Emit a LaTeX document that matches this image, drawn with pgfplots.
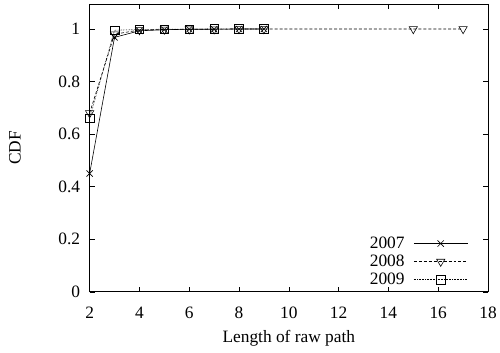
\documentclass[border=0pt]{standalone}
\usepackage{pgfplots}
\pgfplotsset{compat=1.18}
\usepackage{fontspec}
\setmainfont{Liberation Serif}
\begin{document}
\begin{tikzpicture}[x=1bp,y=1bp]
\begin{axis}[
  at={(90bp,61bp)}, anchor=south west,
  scale only axis, width=400bp, height=289bp,
  xmin=2, xmax=18, ymin=0, ymax=1.095,
  xtick={2,4,...,18}, ytick={0,0.2,...,1},
  yticklabels={0,0.2,0.4,0.6,0.8,1},
  tick align=inside, tick pos=both,
  major tick length=5bp,
  tick style={black, line width=0.6pt},
  axis line style={line width=0.9pt},
  /pgf/number format/assume math mode=true,
  tick label style={font=\fontsize{17.5}{18}\selectfont},
  xticklabel style={yshift=-12bp},
  yticklabel style={xshift=-6bp},
  label style={font=\fontsize{17.5}{18}\selectfont},
  xlabel={Length of raw path},
  ylabel={CDF},
  xlabel style={at={(axis description cs:0.5,0)}, anchor=base, yshift=-51bp},
  ylabel style={at={(axis description cs:-0.1875,0.5)}, anchor=center},
  legend style={draw=none, fill=none, font=\fontsize{17.5}{18}\selectfont, legend cell align=right,
    row sep=3bp, column sep=8bp, at={(1,0)}, anchor=south east, xshift=-17bp, yshift=2.5bp,
    nodes={inner sep=1bp}},
  legend plot pos=right,
  legend image code/.code={\draw[mark repeat=2,mark phase=2,#1] plot coordinates {(0bp,0bp) (27bp,0bp) (54bp,0bp)};},
  every axis plot/.append style={line width=0.6pt, black},
  clip=false,
]
\addplot[solid, mark=x, mark size=4.5bp, mark options={solid}] coordinates {
 (2,0.45) (3,0.968) (4,0.993) (5,0.997) (6,0.999) (7,0.999) (8,1) (9,1)};
\addlegendentry{2007}
\addplot[densely dashed, mark=triangle, mark size=4.8bp, mark options={solid, rotate=180}] coordinates {
 (2,0.68) (3,0.98) (4,0.996) (5,0.998) (6,0.999) (7,0.999) (8,1) (9,1) (15,1) (17,1)};
\addlegendentry{2008}
\addplot[densely dotted, mark=square, mark size=4.3bp, mark options={solid}] coordinates {
 (2,0.66) (3,0.995) (4,0.998) (5,0.999) (6,0.999) (7,1) (8,1) (9,1)};
\addlegendentry{2009}
\end{axis}
\path (0,0) rectangle (500,354);
\end{tikzpicture}
\end{document}
